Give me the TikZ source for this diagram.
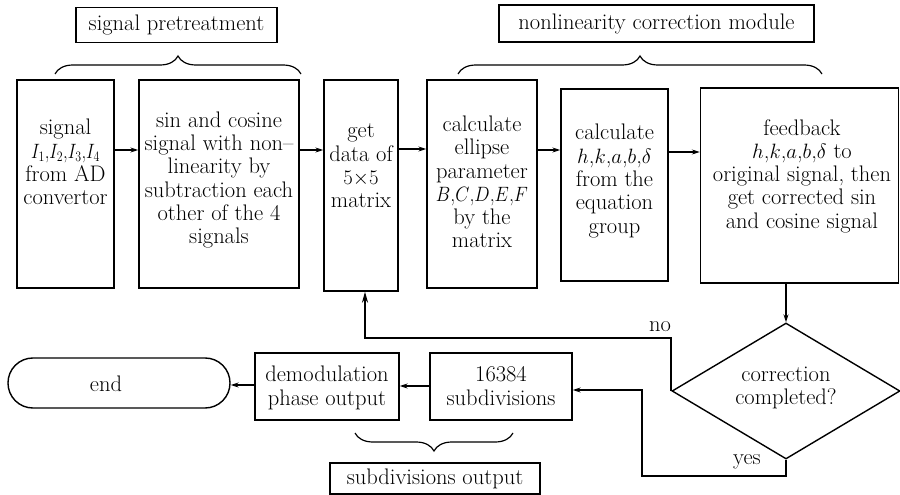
\documentclass[tikz,border=0pt]{standalone}
\usepackage{graphicx}
\usetikzlibrary{shapes.geometric,arrows.meta,decorations.pathreplacing}
\newcommand{\fsz}{\fontsize{22.5}{23.3}\selectfont}
\begin{document}
\begin{tikzpicture}[x=1pt,y=-1pt,
  bx/.style={draw,line width=1.4pt,inner sep=0pt,minimum width=#1},
  txt/.style={align=center,inner sep=0pt,font=\fsz},
  lbl/.style={draw,line width=1.4pt,inner sep=0pt,font=\fsz},
  arr/.style={line width=1.1pt,-{Stealth[length=8pt,width=5pt]}},
  noarr/.style={line width=1.9pt,-{Stealth[length=11pt,width=6pt]}},
  brc/.style={line width=1.2pt,decorate,decoration={brace,amplitude=18pt}}]
\useasboundingbox (0,0) rectangle (900,495);
% header labels
\node[lbl,minimum width=201pt,minimum height=35pt] (sp) at (176.5,25) {signal pretreatment};
\node[lbl,minimum width=315pt,minimum height=37pt] (nl) at (656.5,23.5) {nonlinearity correction module};
\draw[brc] (55,74) -- (301,74);
\draw[brc] (458,74) -- (822,74);
% top row boxes
\node[bx=97pt,minimum height=208pt] (b1) at (65.5,184) {};
\node[bx=160pt,minimum height=208pt] (b2) at (219,184) {};
\node[bx=74pt,minimum height=211pt] (b3) at (361,185.5) {};
\node[bx=110pt,minimum height=208pt] (b4) at (482,184) {};
\node[bx=107pt,minimum height=192pt] (b5) at (614.5,185) {};
\node[bx=198pt,minimum height=195pt] (b6) at (799.5,185.5) {};
\node[txt] (t1) at (65.5,162) {signal\\\scalebox{0.83}[1]{$I_1$,$I_2$,$I_3$,$I_4$}\\from AD\\convertor};
\node[txt] (t2) at (219,180) {sin and cosine\\signal with non--\\linearity by\\subtraction each\\other of the 4\\signals};
\node[txt] (t3) at (361,166) {get\\data of\\$5{\times}5$\\matrix};
\node[txt] (t4) at (482,182) {calculate\\ellipse\\parameter\\\scalebox{0.88}[1]{$B$,$C$,$D$,$E$,$F$}\\by the\\matrix};
\node[txt] (t5) at (614.5,181) {calculate\\$h$,$k$,$a$,$b$,$\delta$\\from the\\equation\\group};
\node[txt] (t6) at (802,176) {feedback\\$h$,$k$,$a$,$b$,$\delta$ to\\original signal, then\\get corrected sin\\and cosine signal};
\draw[arr] (b1.east |- 0,150) -- (b2.west |- 0,150);
\draw[arr] (b2.east |- 0,150) -- (b3.west |- 0,150);
\draw[arr] (b3.east |- 0,149) -- (b4.west |- 0,149);
\draw[arr] (b4.east |- 0,150) -- (b5.west |- 0,150);
\draw[arr] (b5.east |- 0,152) -- (b6.west |- 0,152);
% decision
\node[diamond,draw,line width=1.4pt,inner sep=0pt,minimum width=228pt,minimum height=136pt,aspect=1.68] (dia) at (786,391) {};
\node[txt] (td) at (786,388) {correction\\completed?};
\draw[arr] (dia.north |- b6.south) -- (dia.north);
% bottom row
\node[bx=142pt,minimum height=67pt] (s16) at (501,386.5) {};
\node[txt] (ts16) at (501,386) {16384\\subdivisions};
\node[bx=144pt,minimum height=67pt] (dem) at (327,386.5) {};
\node[txt] (tdem) at (327,388) {demodulation\\phase output};
\node[draw,line width=1.4pt,rounded corners=24.9pt,minimum width=222pt,minimum height=50pt,inner sep=0pt] (endn) at (119,383) {};
\node[txt] (tend) at (106,384) {end};
\draw[arr] (s16.west |- 0,386) -- (dem.east |- 0,386);
\draw[arr] (dem.west |- 0,385) -- (endn.east |- 0,385);
% no loop
\coordinate (nc) at (365,338);
\draw[noarr] (dia.west) |- (nc) -- (nc |- b3.south);
\node[font=\fsz,inner sep=0pt] (no) at (660,327) {no};
% yes loop
\coordinate (yc) at (642,476);
\draw[arr] (dia.south) |- (yc) |- (s16.east |- 0,390);
\node[font=\fsz,inner sep=0pt] (yes) at (747,462) {yes};
% bottom label
\draw[brc] (513,433) -- (355,433);
\node[lbl,minimum width=210pt,minimum height=31pt] (so) at (435,478.5) {subdivisions output};
\end{tikzpicture}
\end{document}
